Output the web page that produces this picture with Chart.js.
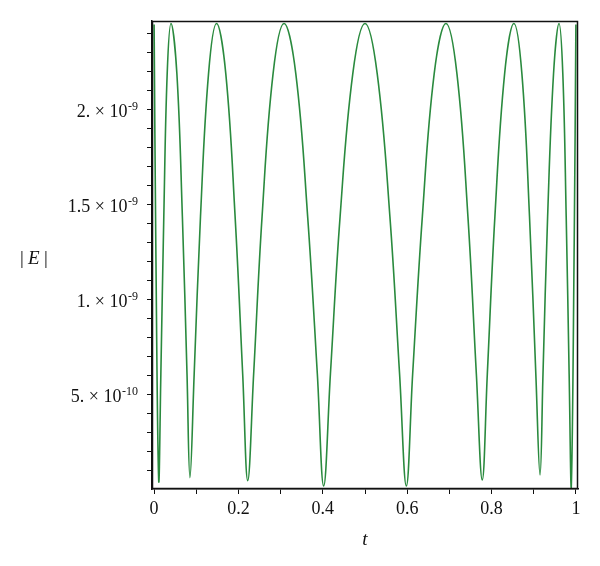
<!DOCTYPE html>
<html>
<head>
<meta charset="utf-8">
<script src="https://cdn.jsdelivr.net/npm/chart.js@4.4.1/dist/chart.umd.min.js"></script>
<style>
html, body { margin: 0; padding: 0; background: #fff; }
#wrap { width: 600px; height: 566px; }
</style>
</head>
<body>
<div id="wrap"><canvas id="errChart" width="600" height="566"></canvas></div>
<script>
// t の値
const tValues = [
  0, 0.004, 0.011, 0.016, 0.023, 0.031, 0.040, 0.054, 0.067, 0.078,
  0.085, 0.095, 0.110, 0.129, 0.148, 0.170, 0.192, 0.210,
  0.222, 0.236, 0.256, 0.282, 0.308, 0.336, 0.364, 0.387,
  0.402, 0.418, 0.441, 0.471, 0.500, 0.529, 0.559, 0.582,
  0.598, 0.613, 0.636, 0.664, 0.692, 0.718, 0.744, 0.764,
  0.778, 0.790, 0.808, 0.831, 0.853, 0.872, 0.890, 0.905,
  0.915, 0.922, 0.933, 0.947, 0.960, 0.969, 0.977, 0.984,
  0.989, 0.996, 1
];
// |E| の値 (単位 10^-9)
const errValues = [
  2.45, 1.30, 0.044, 0.61, 1.44, 2.19, 2.455, 2.19, 1.44, 0.61,
  0.065, 0.61, 1.44, 2.19, 2.455, 2.19, 1.44, 0.61,
  0.049, 0.61, 1.44, 2.19, 2.455, 2.19, 1.44, 0.61,
  0.021, 0.61, 1.44, 2.19, 2.455, 2.19, 1.44, 0.61,
  0.021, 0.61, 1.44, 2.19, 2.455, 2.19, 1.44, 0.61,
  0.053, 0.61, 1.44, 2.19, 2.455, 2.19, 1.44, 0.61,
  0.079, 0.61, 1.44, 2.19, 2.455, 2.19, 1.44, 0.61,
  0.012, 1.30, 2.45
];

// 目盛り
const xMajorTicks = [0, 0.2, 0.4, 0.6, 0.8, 1];
const xTickLabels = ['0', '0.2', '0.4', '0.6', '0.8', '1'];
const xMinorTicks = [0.1, 0.3, 0.5, 0.7, 0.9];

const yMajorTicks = [0.5, 1, 1.5, 2];
const yTickMantissa = ['5.', '1.', '1.5', '2.'];
const yTickExponent = ['-10', '-9', '-9', '-9'];
const yMinorTicks = [0.1, 0.2, 0.3, 0.4, 0.6, 0.7, 0.8, 0.9, 1.1, 1.2, 1.3, 1.4,
                     1.6, 1.7, 1.8, 1.9, 2.1, 2.2, 2.3, 2.4];

const serif = "'Liberation Serif', 'DejaVu Serif', serif";

// 枠線と y 軸ラベル (上付き指数) を描くプラグイン
const decorPlugin = {
  id: 'decor',
  afterDraw(chart) {
    const { ctx, chartArea: a, scales } = chart;
    ctx.save();
    ctx.strokeStyle = '#111';
    ctx.lineWidth = 1.5;
    ctx.strokeRect(a.left + 0.5, a.top + 0.5, a.right - a.left - 1, a.bottom - a.top - 1);

    // y 目盛りラベル
    ctx.fillStyle = '#111';
    ctx.textBaseline = 'alphabetic';
    ctx.textAlign = 'right';
    const rightX = 138;
    yMajorTicks.forEach((v, i) => {
      const y = scales.y.getPixelForValue(v);
      ctx.font = '12px ' + serif;
      const expW = ctx.measureText(yTickExponent[i]).width;
      ctx.fillText(yTickExponent[i], rightX, y + 0.5);
      ctx.font = '18px ' + serif;
      ctx.fillText(yTickMantissa[i] + ' \u00d7 10', rightX - expW - 0.5, y + 7);
    });

    // y 軸タイトル |E|
    ctx.textAlign = 'left';
    const ty = (a.top + a.bottom) / 2 + 9;
    ctx.font = '19px ' + serif;
    ctx.fillText('|', 20, ty);
    ctx.font = 'italic 19px ' + serif;
    ctx.fillText('E', 28, ty);
    ctx.font = '19px ' + serif;
    ctx.fillText('|', 44, ty);
    ctx.restore();
  }
};

const ctx = document.getElementById('errChart').getContext('2d');
new Chart(ctx, {
  type: 'line',
  data: {
    datasets: [{
      data: tValues.map((t, i) => ({ x: t, y: errValues[i] })),
      borderColor: '#2a8a3e',
      borderWidth: 1.6,
      pointRadius: 0,
      tension: 0.4,
      fill: false
    }]
  },
  options: {
    responsive: false,
    animation: false,
    devicePixelRatio: 1,
    layout: { padding: { top: 21, right: 22, left: 0, bottom: 0 } },
    plugins: { legend: { display: false }, tooltip: { enabled: false } },
    scales: {
      x: {
        type: 'linear',
        min: -0.005,
        max: 1.005,
        afterFit(scale) { scale.height = 77; },
        afterBuildTicks(scale) {
          scale.ticks = xMajorTicks.concat(xMinorTicks).sort((a, b) => a - b).map(v => ({ value: v }));
        },
        ticks: {
          autoSkip: false,
          maxRotation: 0,
          padding: 4,
          color: '#111',
          font: { family: serif, size: 18 },
          callback(value) {
            const i = xMajorTicks.findIndex(v => Math.abs(v - value) < 1e-6);
            return i >= 0 ? xTickLabels[i] : '';
          }
        },
        grid: { drawOnChartArea: false, drawTicks: true, tickLength: 5, color: '#111' },
        border: { color: '#111', width: 1.5 },
        title: {
          display: true,
          text: 't',
          color: '#111',
          font: { family: serif, size: 19, style: 'italic' },
          padding: { top: 0, bottom: 15 }
        }
      },
      y: {
        type: 'linear',
        min: 0.005,
        max: 2.468,
        afterFit(scale) { scale.width = 152; },
        afterBuildTicks(scale) {
          scale.ticks = yMajorTicks.concat(yMinorTicks).sort((a, b) => a - b).map(v => ({ value: v }));
        },
        ticks: {
          autoSkip: false,
          callback() { return ''; }
        },
        grid: { drawOnChartArea: false, drawTicks: true, tickLength: 5, color: '#111' },
        border: { color: '#111', width: 1.5 }
      }
    }
  },
  plugins: [decorPlugin]
});
</script>
</body>
</html>
